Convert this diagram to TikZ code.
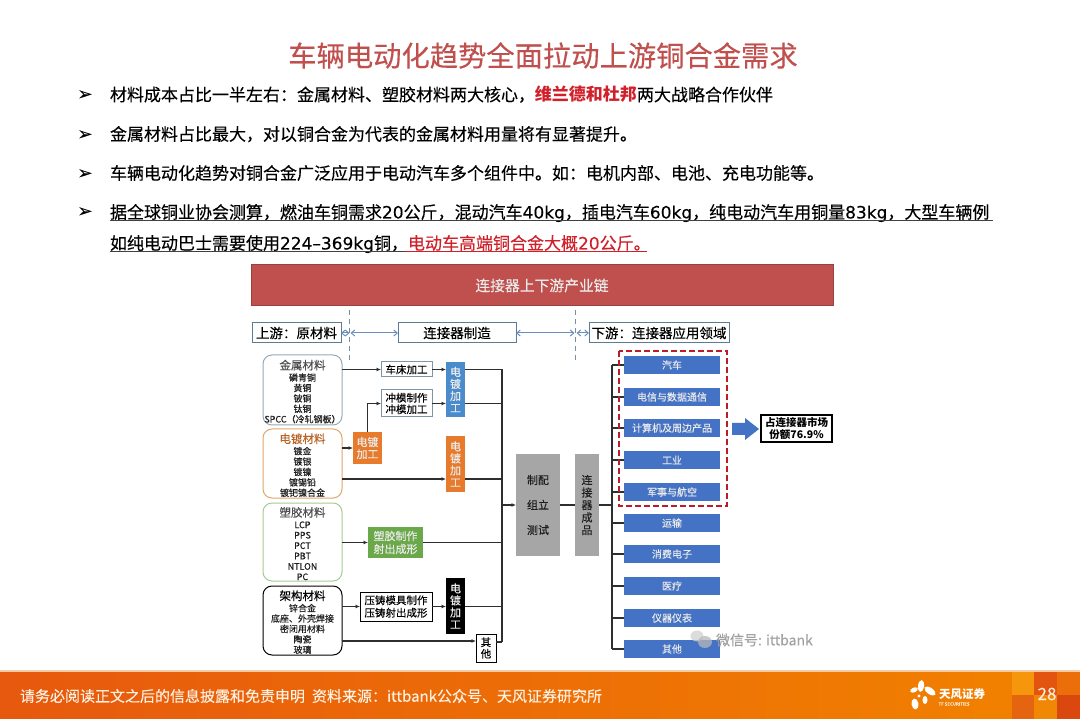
\documentclass[tikz,border=0pt]{standalone}
\usepackage{fontspec}
\setmainfont[UprightFeatures={FakeBold=0.2}]{Noto Sans CJK SC}
\newfontfamily\dejafont[UprightFeatures={FakeBold=0.2}]{DejaVu Sans}
\newcommand{\lat}[1]{{\dejafont #1}}
\usetikzlibrary{arrows.meta,calc}
\definecolor{titlered}{HTML}{C0504D}
\definecolor{barred}{HTML}{C0504D}
\definecolor{hlred}{HTML}{D0202A}
\definecolor{inkc}{HTML}{1E1E1E}
\definecolor{blueb}{HTML}{4472C4}
\definecolor{platecol}{HTML}{4A8CCB}
\definecolor{orangec}{HTML}{E87A2C}
\definecolor{greenc}{HTML}{6BA84A}
\definecolor{greyb}{HTML}{A6A6A6}
\definecolor{linec}{HTML}{2E2E2E}
\definecolor{steel}{HTML}{5B7C92}
\definecolor{arrowc}{HTML}{6C8EBF}
\definecolor{footl}{RGB}{231,89,14}
\definecolor{footr}{RGB}{241,128,0}
\definecolor{footline}{RGB}{247,205,165}
\definecolor{fa}{RGB}{245,150,12}
\definecolor{fb}{RGB}{228,100,15}
\definecolor{fc}{RGB}{226,84,15}
\definecolor{fd}{RGB}{240,135,5}
\definecolor{fe}{RGB}{236,110,10}
\definecolor{ff}{RGB}{218,72,15}
\newcommand{\fs}[1]{\fontsize{#1}{#1}\selectfont}
\newcommand{\bx}[7]{\node[#6,minimum width={(#4-#2)*1pt},minimum height={(#5-#3)*1pt}] (#1) at ({(#2+#4)/2},{(#3+#5)/2}) {#7};}
\tikzset{
  x=1pt,y=-1pt,
  bb/.style={inner sep=0pt,outer sep=0pt,align=center,text=inkc},
  bul/.style={bb,anchor=base west,align=left,font=\fs{17},text=black},
  bulmark/.style={bb,anchor=base,font=\dejafont\fs{18},text=black},
  hdr/.style={bb,draw=steel,line width=1pt,fill=white,font=\fs{13.5},text=black},
  matbox/.style={bb,rounded corners=9pt,fill=white,line width=1pt,font=\fontsize{9}{10.4}\selectfont},
  proc/.style={bb,draw=steel!80,line width=1pt,fill=white,font=\fs{10.5},text=black},
  procb/.style={bb,draw=black,line width=1pt,fill=white,font=\fs{10.5},text=black},
  vbox/.style={bb,font=\fs{11},text=white!92!black},
  gbox/.style={bb,fill=greyb,font=\fs{11},text=inkc},
  appbox/.style={bb,fill=blueb,font=\fs{10},text=white!92!black},
  conn/.style={draw=linec,line width=1.1pt},
  arr/.style={conn,-{Latex[length=4.5pt,width=4pt]}},
  bus/.style={draw=linec,line width=1.4pt},
  dbl/.style={draw=arrowc,line width=1pt,{Straight Barb[length=3.5pt,width=6pt]}-{Straight Barb[length=3.5pt,width=6pt]}},
  dashv/.style={draw=steel!85,line width=1pt,dash pattern=on 5pt off 4pt},
}
\newcommand{\mathd}[2]{\rule{0pt}{13pt}\textcolor{#1}{\fs{11.5}#2}}
\begin{document}
\begin{tikzpicture}
\useasboundingbox (0,0) rectangle (1080,719);
\fill[white] (0,0) rectangle (1080,719);
% title
\node[bb,font=\fs{28.3},text=titlered] (title) at (543,55.5) {车辆电动化趋势全面拉动上游铜合金需求};
% bullets
\foreach \yy/\nm in {100/a,140/b,179/c,217/d}{
  \node[bulmark] (m\nm) at (85,\yy) {➢};
}
\node[bul] (l1) at (110,101) {材料成本占比一半左右：金属材料、塑胶材料两大核心，\textcolor{hlred}{\textbf{维兰德和杜邦}}两大战略合作伙伴};
\node[bul] (l2) at (110,140.5) {金属材料占比最大，对以铜合金为代表的金属材料用量将有显著提升。};
\node[bul] (l3) at (110,179.5) {车辆电动化趋势对铜合金广泛应用于电动汽车多个组件中。如：电机内部、电池、充电功能等。};
\node[bul] (l4) at (110,218.5) {据全球铜业协会测算，燃油车铜需求\lat{20}公斤，混动汽车\lat{40kg}，插电汽车\lat{60kg}，纯电动汽车用铜量\lat{83kg}，大型车辆例};
\node[bul] (l5) at (110,249.5) {如纯电动巴士需要使用\lat{224–369kg}铜，\textcolor{hlred}{电动车高端铜合金大概\lat{20}公斤。}};
\draw[black!75,line width=1pt] (110,221) -- (993,221);
\draw[black!75,line width=1pt] (110,251.5) -- (405,251.5);
\draw[hlred,line width=1pt] (405,251.5) -- (647,251.5);
% red bar
\bx{bar}{251}{265}{833}{306}{bb,fill=barred,draw=barred!80!black,line width=1pt,font=\fs{14.8},text=white!92!black}{连接器上下游产业链}
% header row
\bx{hup}{252}{323}{341}{343}{hdr}{上游：原材料}
\bx{hmid}{398}{323}{516}{343}{hdr}{连接器制造}
\bx{hdown}{589}{323}{729}{343}{hdr}{下游：连接器应用领域}
\coordinate (d1t) at (349.5,310);
\coordinate (d1b) at (349.5,361);
\coordinate (d2t) at (575.5,310);
\coordinate (d2b) at (575.5,361);
\draw[dashv] (d1t) -- (d1b);
\draw[dashv] (d2t) -- (d2b);
\draw[dbl] (hup.east) -- (d1t |- hup.east);
\draw[dbl] ($(d1t |- hup.east)+(1,0)$) -- (hmid.west);
\draw[dbl] (hmid.east) -- ($(d2t |- hmid.east)+(-1,0)$);
\draw[dbl] ($(d2t |- hdown.west)+(1,0)$) -- (hdown.west);
% material boxes
\bx{jinshu}{263}{355}{342}{425}{matbox,draw=steel!65}{\mathd{black!70}{金属材料}\\[1pt]磷青铜\\黄铜\\铍铜\\钛铜\\SPCC（冷轧钢板）}
\bx{diandu}{263}{429}{342}{498}{matbox,draw=orange!35!brown!70}{\mathd{orangec!80!black}{电镀材料}\\[1pt]镀金\\镀银\\镀镍\\镀锡铅\\镀钯镍合金}
\bx{sujiao}{263}{503}{342}{581}{matbox,draw=greenc!60}{\mathd{black!70}{塑胶材料}\\[1pt]LCP\\PPS\\PCT\\PBT\\NTLON\\PC}
\bx{jiagou}{263}{586}{342}{655}{matbox,draw=black}{\mathd{black}{架构材料}\\[1pt]锌合金\\底座、外壳焊接\\密闭用材料\\陶瓷\\玻璃}
% process boxes
\bx{chechuang}{381}{362}{432}{377}{proc}{车床加工}
\bx{chongmo}{381}{390}{432}{417}{proc}{冲模制作\\[1pt]冲模加工}
\bx{platea}{446}{362}{465}{417}{vbox,fill=platecol}{电\\[1pt]镀\\[1pt]加\\[1pt]工}
\bx{plateb}{353}{432}{382}{464}{vbox,fill=orangec}{电镀\\[1pt]加工}
\bx{platec}{446}{436}{465}{492}{vbox,fill=orangec}{电\\[1pt]镀\\[1pt]加\\[1pt]工}
\bx{suliao}{368}{527}{423}{558}{vbox,fill=greenc}{塑胶制作\\[2pt]射出成形}
\bx{yazhu}{360}{592}{432}{621}{procb}{压铸模具制作\\[2pt]压铸射出成形}
\bx{plated}{446}{578}{465}{634}{vbox,fill=black}{电\\[1pt]镀\\[1pt]加\\[1pt]工}
\bx{qita}{476}{634}{496}{662}{procb}{其\\[1pt]他}
% centre boxes
\bx{zhipei}{516}{454}{560}{556}{gbox}{制配\\[14pt]组立\\[14pt]测试}
\bx{chengpin}{575}{454}{599}{556}{gbox}{连\\[1.5pt]接\\[1.5pt]器\\[1.5pt]成\\[1.5pt]品}
% application boxes
\bx{aa}{624}{356}{720}{374}{appbox}{汽车}
\bx{ab}{624}{388}{720}{406}{appbox}{电信与数据通信}
\bx{ac}{624}{419}{720}{437}{appbox}{计算机及周边产品}
\bx{ad}{624}{451}{720}{469}{appbox}{工业}
\bx{ae}{624}{483}{720}{501}{appbox}{军事与航空}
\bx{af}{624}{514}{720}{532}{appbox}{运输}
\bx{ag}{624}{545}{720}{563}{appbox}{消费电子}
\bx{ah}{624}{577}{720}{595}{appbox}{医疗}
\bx{ai}{624}{609}{720}{627}{appbox}{仪器仪表}
\bx{aj}{624}{640}{720}{658}{appbox}{其他}
% left bus
\coordinate (lt) at (502,369.5);
\coordinate (lb) at (502,642);
\draw[bus] (lt) -- (lb);
\draw[arr] (jinshu.east |- chechuang) -- (chechuang);
\draw[arr] (chechuang) -- (platea.west |- chechuang);
\draw[conn] (platea.east |- chechuang) -- (lt |- chechuang);
\draw[arr] (chongmo) -- (platea.west |- chongmo);
\draw[conn] (platea.east |- chongmo) -- (lt |- chongmo);
\draw[arr] (diandu.east |- plateb) -- (plateb.west);
\draw[arr] (plateb.north) |- (chongmo.west);
\coordinate (eline) at (0,479);
\draw[arr] (diandu.east |- eline) -- (platec.west |- eline);
\draw[conn] (platec.east |- eline) -- (lt |- eline);
\draw[arr] (sujiao.east |- suliao) -- (suliao);
\draw[conn] (suliao.east) -- (lt |- suliao);
\draw[arr] (jiagou.east |- yazhu) -- (yazhu);
\draw[arr] (yazhu) -- (plated.west |- yazhu);
\draw[conn] (plated.east |- yazhu) -- (lt |- yazhu);
\coordinate (qline) at (0,641);
\draw[arr] (jiagou.east |- qline) -- (qita.west |- qline);
\draw[conn] (qita.east |- lb) -- (lb);
\draw[arr] (lt |- zhipei.west) -- (zhipei.west);
\draw[conn] (zhipei.east) -- (chengpin.west);
% right bus
\coordinate (rt) at (612,365);
\coordinate (rb) at (612,649);
\draw[bus] (rt) -- (rb);
\draw[conn] (chengpin.east) -- (rt |- chengpin.east);
\foreach \a in {aa,ab,ac,ad,ae,af,ag,ah,ai,aj}{
  \draw[conn] (rt |- \a.west) -- (\a.west);
}
% red dashed frame
\draw[hlred!90!black,line width=2.4pt,dash pattern=on 6pt off 3pt] (619,351) rectangle (727,506);
% share arrow
\fill[blueb] (732,423) -- (745,423) -- (745,418) -- (759,429) -- (745,440) -- (745,435) -- (732,435) -- cycle;
\bx{share}{761}{415}{832}{442}{bb,draw=black,line width=1.2pt,fill=white,font=\fs{10.5}\bfseries,text=black}{占连接器市场\\[1pt]份额76.9\%}
% watermark
\fill[black!18,opacity=.75] (697,636) ellipse (6.5pt and 5.5pt);
\fill[black!28,opacity=.75] (705,642) ellipse (7pt and 6pt);
\node[bb,anchor=west,font=\fs{14},text=black!40,opacity=.9] (wm) at (716,640) {微信号: ittbank};
% footer
\shade[left color=footl,right color=footr] (0,671) rectangle (1012,719);
\fill[footr] (1012,671) rectangle (1080,719);
\fill[footline] (0,670) rectangle (1080,671.5);
\fill[fa] (1012,672) rectangle (1034,695);
\fill[fb] (1012,695) rectangle (1034,719);
\fill[fc] (1034,672) rectangle (1057,695);
\fill[fd] (1034,695) rectangle (1057,719);
\fill[fe] (1057,672) rectangle (1080,695);
\fill[ff] (1057,695) rectangle (1080,719);
\node[bb,anchor=west,font=\fs{15},text=white!88!orange] (foot) at (20,696) {请务必阅读正文之后的信息披露和免责申明\hspace{7pt}资料来源：ittbank公众号、天风证券研究所};
\begin{scope}
\fill[white,rotate around={-8:(921,686)}] (921,686) ellipse (3pt and 6pt);
\fill[white,rotate around={55:(930,691)}] (930,691) ellipse (3.2pt and 6.5pt);
\fill[white,rotate around={-65:(914,690)}] (914,690) ellipse (2.4pt and 4pt);
\fill[white] (925,700) ellipse (2.5pt and 4pt);
\fill[white,rotate around={10:(915,704)}] (915,704) ellipse (3.5pt and 5.5pt);
\fill[white] (919,696) circle (1.6pt);
\end{scope}
\node[bb,font=\fs{11.5}\bfseries,text=white] (logo) at (962,694) {天风证券};
\node[bb,font=\fs{4.5},text=white!85!orange] (logo2) at (954,704) {TF SECURITIES};
\node[bb,font=\fs{17},text=white!85!orange] (page) at (1047,694) {28};
\end{tikzpicture}
\end{document}
